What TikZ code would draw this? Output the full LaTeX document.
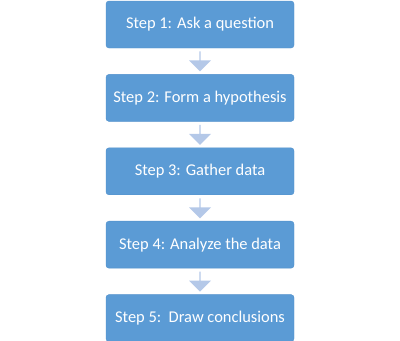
\documentclass[tikz,border=0pt]{standalone}
\usepackage{fontspec}
\setmainfont{Carlito}
\usetikzlibrary{positioning,shapes.arrows}
\definecolor{pasoazul}{HTML}{5B9BD5}
\definecolor{pasoborde}{HTML}{5090CC}
\definecolor{flechaazul}{HTML}{B4C8E8}
\begin{document}
\begin{tikzpicture}[node distance=26bp,font=\fontsize{16.5}{19}\selectfont]
\tikzset{
  paso/.style={draw=pasoborde,fill=pasoazul,rounded corners=3bp,text=white,
    minimum width=188bp,minimum height=47bp,inner sep=0pt},
  bajada/.style={single arrow,draw=none,fill=flechaazul,shape border rotate=270,
    minimum height=20bp,minimum width=22bp,single arrow head extend=4bp,inner sep=0pt}
}
\useasboundingbox (0,0) rectangle (400bp,-341bp);
\node[paso] (s1) at (200bp,-24.5bp) {Step 1: Ask a question};
\node[paso,below=of s1] (s2) {Step 2: Form a hypothesis};
\node[paso,below=of s2] (s3) {Step 3: Gather data};
\node[paso,below=of s3] (s4) {Step 4: Analyze the data};
\node[paso,below=of s4] (s5) {Step 5:\ \ Draw conclusions};
\path (s1) -- (s2) node[midway,bajada] (a1) {};
\path (s2) -- (s3) node[midway,bajada] (a2) {};
\path (s3) -- (s4) node[midway,bajada] (a3) {};
\path (s4) -- (s5) node[midway,bajada] (a4) {};
\end{tikzpicture}
\end{document}
